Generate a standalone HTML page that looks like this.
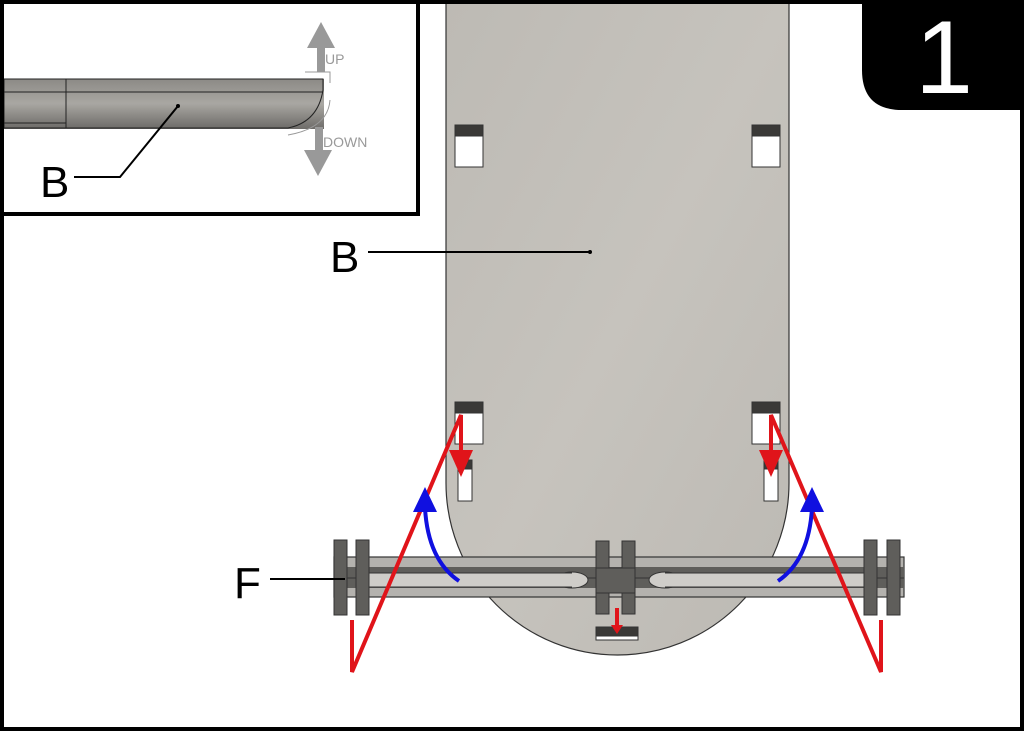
<!DOCTYPE html>
<html><head><style>html,body{margin:0;padding:0;background:#fff}svg{display:block}</style></head>
<body>
<svg width="1024" height="731" viewBox="0 0 1024 731" xmlns="http://www.w3.org/2000/svg" font-family="Liberation Sans, sans-serif">
<defs>
<linearGradient id="bg" x1="0" y1="0" x2="1" y2="1"><stop offset="0" stop-color="#bdbab4"/><stop offset="0.5" stop-color="#c6c3bd"/><stop offset="1" stop-color="#bcb9b3"/></linearGradient>
<linearGradient id="ig" x1="0" y1="0" x2="0" y2="1"><stop offset="0" stop-color="#8c8a86"/><stop offset="0.5" stop-color="#a9a7a2"/><stop offset="1" stop-color="#6e6c69"/></linearGradient>
</defs>
<rect width="1024" height="731" fill="#fff"/>
<!-- board -->
<path d="M446 0 H789 V483 A171.5 172 0 0 1 446 483 Z" fill="url(#bg)" stroke="#333" stroke-width="1.2"/>
<!-- slots -->
<g stroke="#333" stroke-width="1">
<rect x="455" y="125" width="28" height="42" fill="#fff"/><rect x="455" y="125" width="28" height="11" fill="#3a3937"/>
<rect x="752" y="125" width="28" height="42" fill="#fff"/><rect x="752" y="125" width="28" height="11" fill="#3a3937"/>
<rect x="455" y="402" width="28" height="42" fill="#fff"/><rect x="455" y="402" width="28" height="11" fill="#3a3937"/>
<rect x="752" y="402" width="28" height="42" fill="#fff"/><rect x="752" y="402" width="28" height="11" fill="#3a3937"/>
<rect x="458" y="460" width="14" height="41" fill="#fff"/><rect x="458" y="460" width="14" height="9" fill="#3a3937"/>
<rect x="764" y="460" width="14" height="41" fill="#fff"/><rect x="764" y="460" width="14" height="9" fill="#3a3937"/>
<rect x="596" y="627" width="42" height="13" fill="#fff"/><rect x="596" y="627" width="42" height="9" fill="#3a3937"/>
</g>
<!-- bar F -->
<rect x="334" y="557" width="570" height="40" fill="#b4b2ae" stroke="#333" stroke-width="1.2"/>
<rect x="334" y="567" width="570" height="21" fill="#5f5e5b"/>
<line x1="334" y1="578" x2="904" y2="578" stroke="#333" stroke-width="1"/>
<ellipse cx="572" cy="580" rx="16" ry="8" fill="#cfcdc9" stroke="#333"/>
<ellipse cx="665" cy="580" rx="16" ry="8" fill="#cfcdc9" stroke="#333"/>
<rect x="360" y="573" width="212" height="14" fill="#cfcdc9"/>
<rect x="665" y="573" width="212" height="14" fill="#cfcdc9"/>
<line x1="360" y1="573" x2="572" y2="573" stroke="#333"/><line x1="360" y1="587" x2="572" y2="587" stroke="#333"/>
<line x1="665" y1="573" x2="877" y2="573" stroke="#333"/><line x1="665" y1="587" x2="877" y2="587" stroke="#333"/>
<!-- clips -->
<g fill="#5f5e5b" stroke="#333" stroke-width="1">
<rect x="334" y="540" width="13" height="75"/><rect x="356" y="540" width="13" height="75"/>
<rect x="864" y="540" width="13" height="75"/><rect x="887" y="540" width="13" height="75"/>
<rect x="596" y="541" width="13" height="73"/><rect x="622" y="541" width="13" height="73"/>
<rect x="596" y="568" width="39" height="25"/>
</g>
<!-- F label -->
<text x="234" y="598" font-size="44">F</text>
<line x1="270" y1="579" x2="345" y2="579" stroke="#000" stroke-width="2"/>
<!-- B label -->
<text x="330" y="272" font-size="44">B</text>
<line x1="368" y1="252" x2="590" y2="252" stroke="#000" stroke-width="2"/>
<circle cx="590" cy="252" r="2"/>
<!-- red lines -->
<g stroke="#e0141a" stroke-width="4" fill="none">
<polyline points="352,620 352,672 461,415 461,455"/>
<polyline points="881,620 881,672 771,415 771,455"/>
<line x1="617" y1="608" x2="617" y2="628"/>
</g>
<polygon points="449,450 473,450 461,477" fill="#e0141a"/>
<polygon points="759,450 783,450 771,477" fill="#e0141a"/>
<polygon points="611,625 623,625 617,634" fill="#e0141a"/>
<!-- blue arcs -->
<g stroke="#1010e0" stroke-width="4" fill="none">
<path d="M459 581 Q428 560 425 508"/>
<path d="M778 581 Q809 560 812 508"/>
</g>
<polygon points="413,512 437,512 425,487" fill="#1010e0"/>
<polygon points="800,512 824,512 812,487" fill="#1010e0"/>
<!-- inset -->
<rect x="2" y="2" width="416" height="212" fill="#fff" stroke="#000" stroke-width="4"/>
<rect x="4" y="79" width="320" height="50" fill="url(#ig)"/>
<path d="M4 79 H323 V90 Q318 122 288 128 H4 Z" fill="url(#ig)" stroke="#222" stroke-width="1"/>
<line x1="4" y1="92" x2="323" y2="92" stroke="#222"/>
<line x1="66" y1="79" x2="66" y2="128" stroke="#222"/>
<line x1="4" y1="123" x2="66" y2="123" stroke="#222"/>
<path d="M305 72 H330 V83" stroke="#999" fill="none"/>
<path d="M330 100 Q328 128 288 135" stroke="#999" fill="none"/>
<rect x="317" y="45" width="8" height="27" fill="#999"/><polygon points="307,48 335,48 321,22" fill="#999"/>
<rect x="315" y="127" width="8" height="26" fill="#999"/><polygon points="304,150 332,150 318,176" fill="#999"/>
<text x="325" y="64" font-size="14" fill="#999">UP</text>
<text x="323" y="147" font-size="14" fill="#999">DOWN</text>
<text x="40" y="197" font-size="44">B</text>
<polyline points="74,177 120,177 178,106" stroke="#000" stroke-width="2" fill="none"/>
<circle cx="178" cy="106" r="2"/>
<!-- badge -->
<path d="M862 0 H1024 V110 H902 Q862 110 862 70 Z" fill="#000"/>
<text x="944" y="93" font-size="104" fill="#fff" text-anchor="middle">1</text>
<!-- outer border -->
<rect x="2" y="2" width="1020" height="727" fill="none" stroke="#000" stroke-width="4"/>
</svg>
</body></html>
